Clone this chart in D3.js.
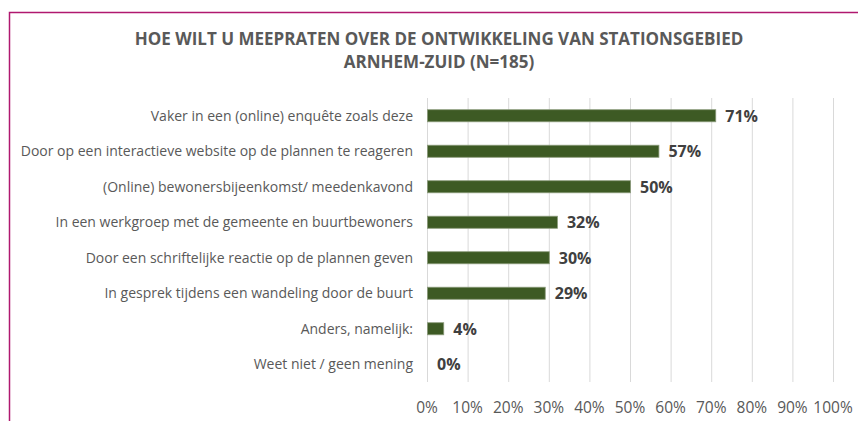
<!DOCTYPE html>
<html>
<head>
<meta charset="utf-8">
<script src="https://cdn.jsdelivr.net/npm/d3@7"></script>
<style>
  html, body { margin: 0; padding: 0; background: #fff; }
  svg { display: block; }
</style>
</head>
<body>
<div id="chart"></div>
<script>
// gegevens
const categories = [
  'Vaker in een (online) enquête zoals deze',
  'Door op een interactieve website op de plannen te reageren',
  '(Online) bewonersbijeenkomst/ meedenkavond',
  'In een werkgroep met de gemeente en buurtbewoners',
  'Door een schriftelijke reactie op de plannen geven',
  'In gesprek tijdens een wandeling door de buurt',
  'Anders, namelijk:',
  'Weet niet / geen mening'
];
const values = [71, 57, 50, 32, 30, 29, 4, 0];
const tickValues = [0, 10, 20, 30, 40, 50, 60, 70, 80, 90, 100];
const titleLines = [
  'HOE WILT U MEEPRATEN OVER DE ONTWIKKELING VAN STATIONSGEBIED',
  'ARNHEM-ZUID (N=185)'
];

const width = 858, height = 421;
const font = '"Open Sans", sans-serif';

const svg = d3.select('#chart').append('svg')
  .attr('width', width)
  .attr('height', height);

// rand van de grafiek
svg.append('path')
  .attr('d', 'M9.5,421 L9.5,12.5 L858,12.5')
  .attr('fill', 'none')
  .attr('stroke', '#b0186f')
  .attr('stroke-width', 1.5);

// titel
svg.append('g').selectAll('text')
  .data(titleLines)
  .join('text')
  .attr('x', 439)
  .attr('y', (d, i) => 45 + i * 23)
  .attr('text-anchor', 'middle')
  .attr('font-family', font)
  .attr('font-weight', 'bold')
  .attr('font-size', 17)
  .attr('fill', '#595959')
  .text(d => d);

const x = d3.scaleLinear().domain([0, 100]).range([427, 833]);
const y = d3.scaleBand().domain(categories).range([98, 382]).paddingInner(0.66).paddingOuter(0.33);

// rasterlijnen
svg.append('g').selectAll('line')
  .data(tickValues)
  .join('line')
  .attr('x1', d => x(d) + 0.5)
  .attr('x2', d => x(d) + 0.5)
  .attr('y1', 98)
  .attr('y2', 382)
  .attr('stroke', '#d9d9d9')
  .attr('stroke-width', 1);

// x-as labels
svg.append('g').selectAll('text')
  .data(tickValues)
  .join('text')
  .attr('x', d => x(d))
  .attr('y', 413)
  .attr('text-anchor', 'middle')
  .attr('font-family', font)
  .attr('font-size', 15.5)
  .attr('fill', '#595959')
  .text(d => d + '%');

// categorie labels
svg.append('g').selectAll('text')
  .data(categories)
  .join('text')
  .attr('x', 413)
  .attr('y', d => y(d) + y.bandwidth() / 2)
  .attr('dy', '0.35em')
  .attr('text-anchor', 'end')
  .attr('font-family', font)
  .attr('font-size', 14)
  .attr('fill', '#595959')
  .text(d => d);

// balken
svg.append('g').selectAll('rect')
  .data(values)
  .join('rect')
  .attr('x', x(0) + 0.5)
  .attr('y', (d, i) => y(categories[i]))
  .attr('width', d => Math.max(0, x(d) - x(0)))
  .attr('height', y.bandwidth())
  .attr('fill', '#3d5a24')
  .attr('stroke', d => d > 0 ? '#8a9a7a' : 'none')
  .attr('stroke-width', 0.8);

// waarde labels
svg.append('g').selectAll('text')
  .data(values)
  .join('text')
  .attr('x', d => x(d) + 10)
  .attr('y', (d, i) => y(categories[i]) + y.bandwidth() / 2)
  .attr('dy', '0.38em')
  .attr('font-family', font)
  .attr('font-weight', 'bold')
  .attr('font-size', 16)
  .attr('fill', '#404040')
  .text(d => d + '%');
</script>
</body>
</html>
